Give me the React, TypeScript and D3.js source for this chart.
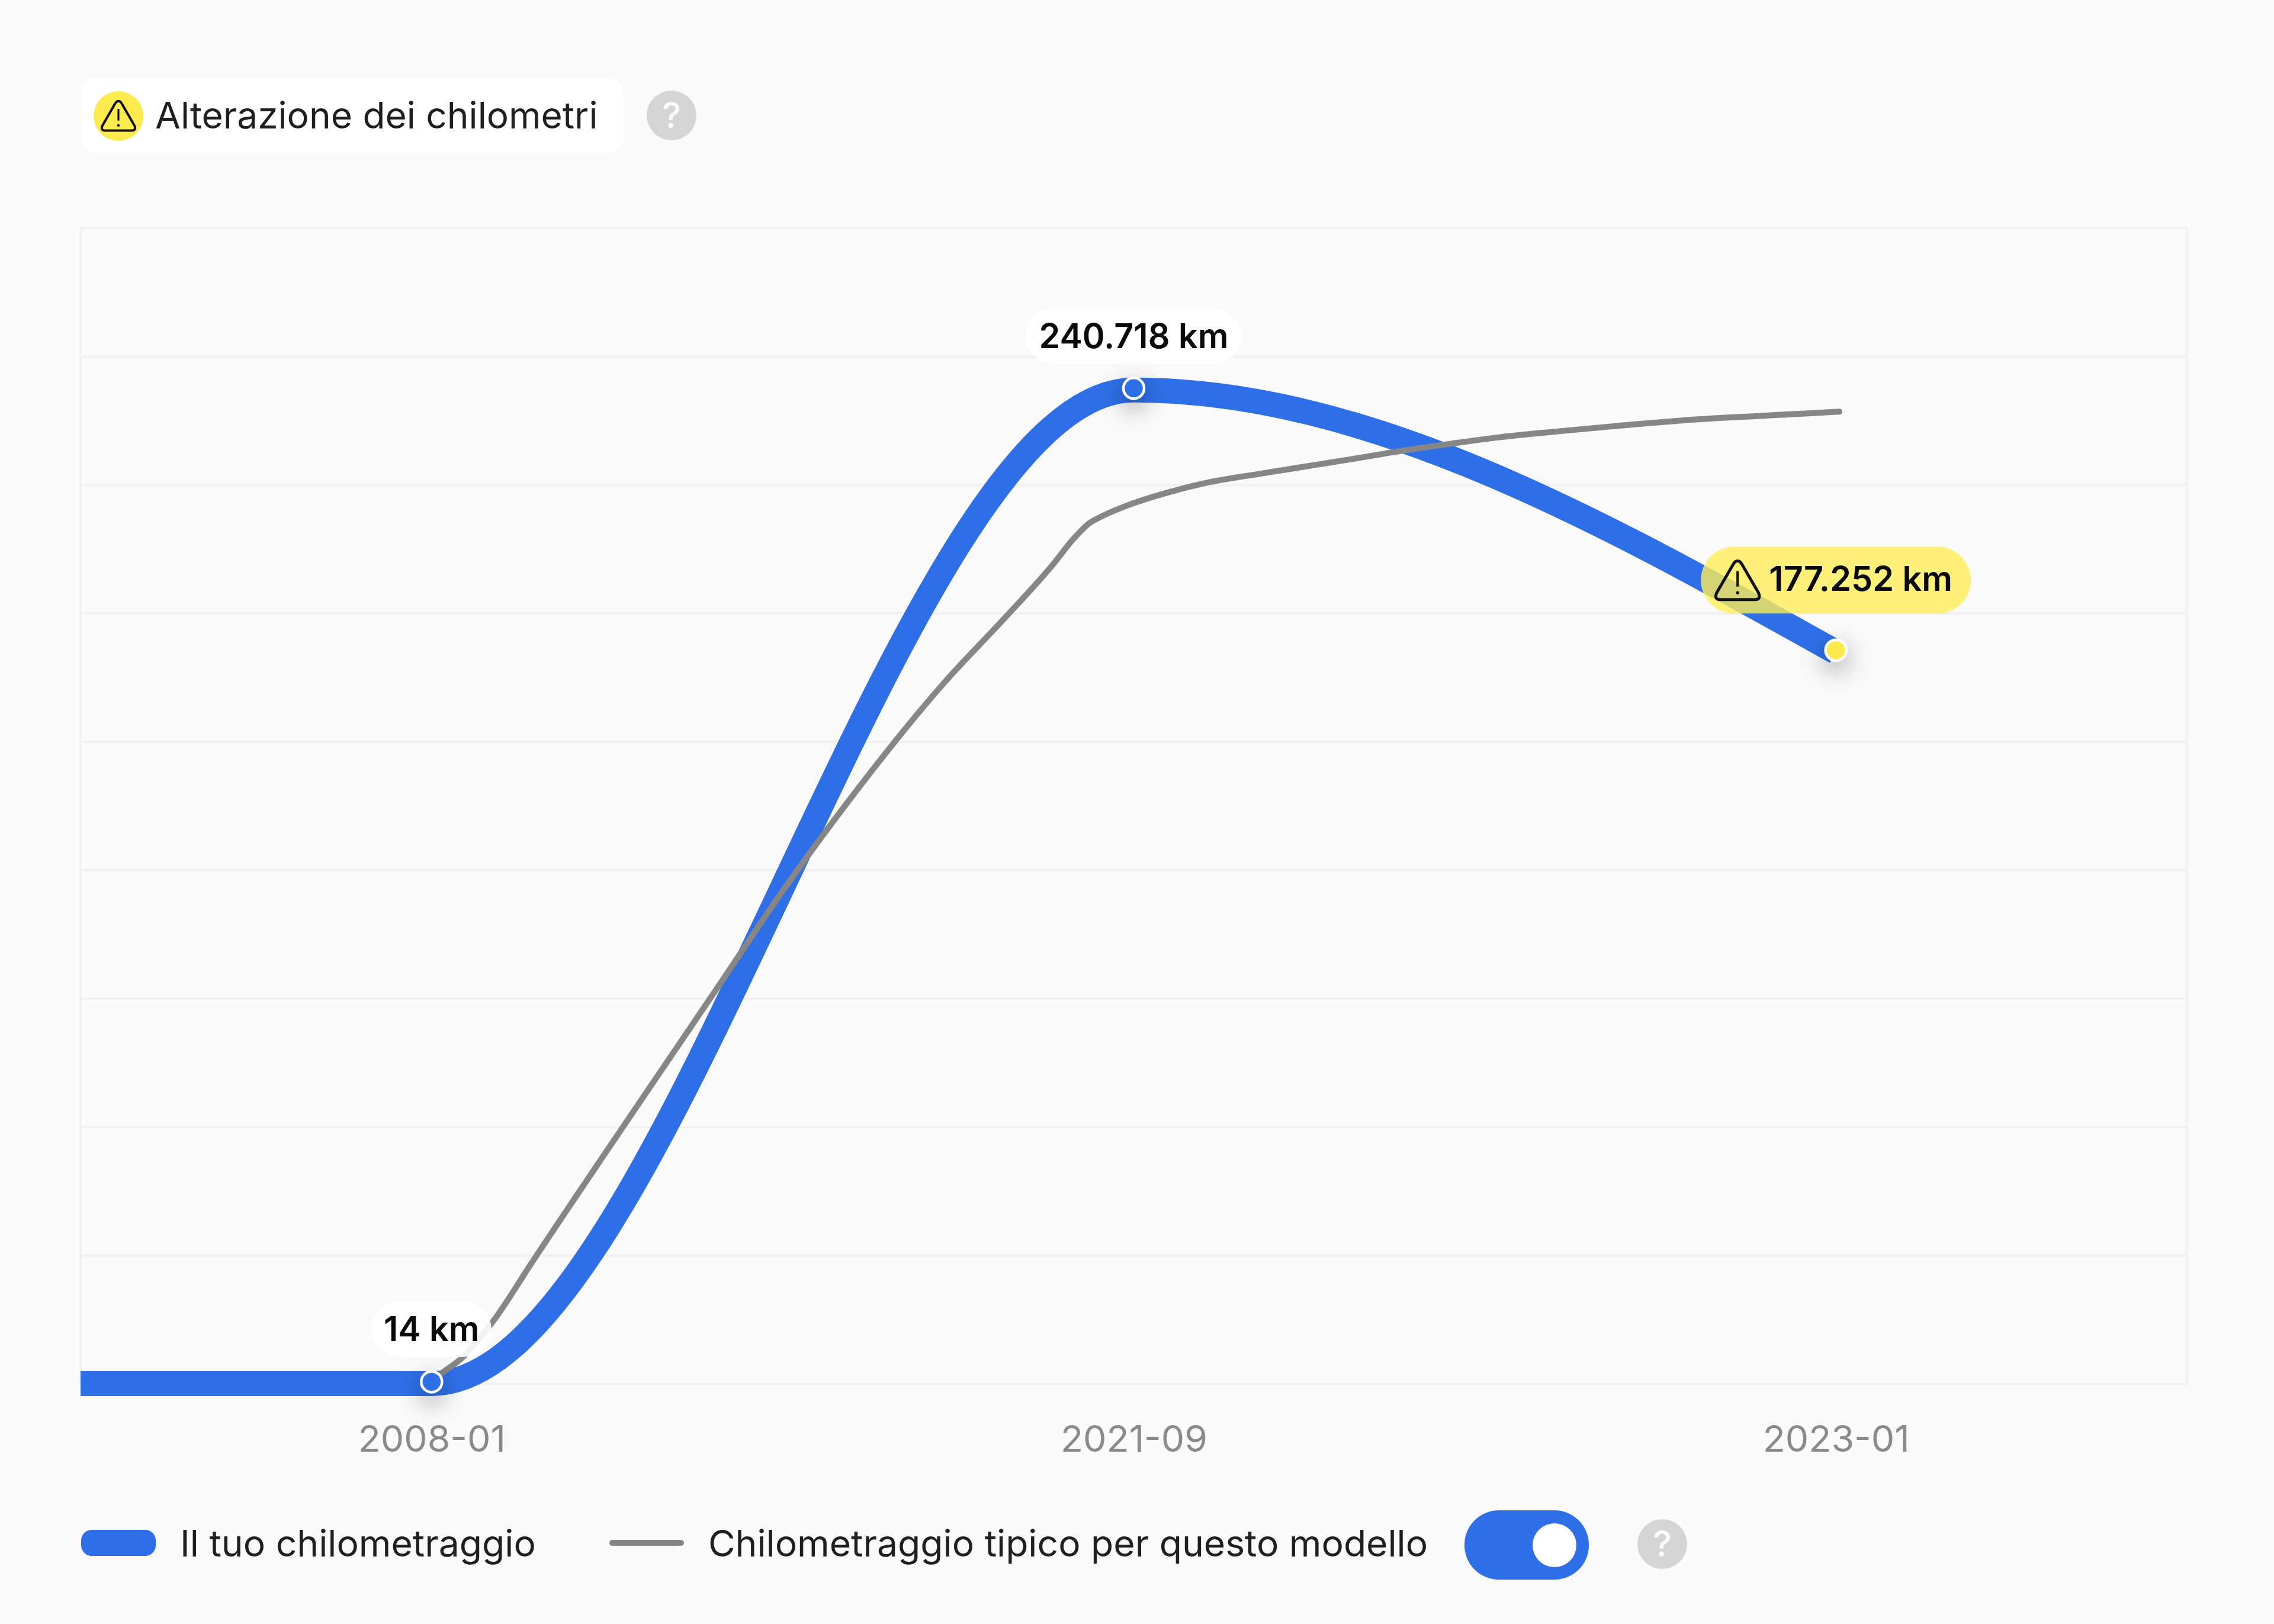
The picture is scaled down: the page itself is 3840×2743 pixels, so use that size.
import { axisBottom, axisLeft, curveMonotoneX, line, scaleLinear, scalePoint, select } from 'd3';
import { useEffect, useRef } from 'react';

const dates = ['2008-01', '2021-09', '2023-01'];
const mileage = [14, 240718, 177252];
const mileageLabels = ['14 km', '240.718 km', '177.252 km'];
const flagged = [false, false, true];

// blue line starts at the left edge of the plot, half a step before the first date
const yourPositions = [-0.5, 0, 1, 2];
const yourKm = [14, 14, 240718, 177252];

const typicalPositions = [
  0, 0.015, 0.043, 0.068, 0.088, 0.142, 0.417, 0.496, 0.594, 0.732, 0.819, 0.885, 0.914, 0.937, 0.954,
  0.994, 1.044, 1.1, 1.184, 1.258, 1.311, 1.382, 1.452, 1.522, 1.606, 1.679, 1.803, 1.943, 2.005,
];
const typicalKm = [
  400, 2583, 6170, 10906, 15211, 29131, 98441, 118388, 141204, 170191, 185976, 198461, 204631,
  208506, 210084, 212954, 215681, 218120, 220560, 222569, 224004, 226012, 227735, 229313, 230748,
  231896, 233618, 234910, 235484,
];

const gridKm = [0, 31111, 62222, 93333, 124444, 155556, 186667, 217778, 248889, 280000];

const titleText = 'Alterazione dei chilometri';
const legendYours = 'Il tuo chilometraggio';
const legendTypical = 'Chilometraggio tipico per questo modello';

const WIDTH = 3840;
const HEIGHT = 2743;
const BLUE = '#2e6fe8';
const GRAY = '#868686';
const FONT = 'Inter, sans-serif';

const plot = { left: 136, right: 3693, top: 385, bottom: 2337 };
const pillWidths = [202, 363, 456];
const pillHeights = [94, 92, 113];
const pillOffsets = [139, 137, 178];
const baselineOffsets = [67, 66, 75];

// warning triangle, centred on cx, cy; size is the full width
const drawWarning = (g, cx, cy, size, strokeWidth) => {
  const s = size / 2;
  const tri = g.append('g').attr('transform', `translate(${cx},${cy}) scale(${s})`);
  tri
    .append('path')
    .attr('d', 'M0,-0.84 Q0.12,-0.84 0.2,-0.68 L0.94,0.6 Q1.04,0.88 0.78,0.88 L-0.78,0.88 Q-1.04,0.88 -0.94,0.6 L-0.2,-0.68 Q-0.12,-0.84 0,-0.84 Z')
    .attr('fill', 'none')
    .attr('stroke', '#111')
    .attr('stroke-width', strokeWidth / s)
    .attr('stroke-linejoin', 'round');
  tri
    .append('line')
    .attr('x1', 0)
    .attr('x2', 0)
    .attr('y1', -0.38)
    .attr('y2', 0.3)
    .attr('stroke', '#111')
    .attr('stroke-width', (strokeWidth * 0.8) / s);
  tri.append('circle').attr('cx', 0).attr('cy', 0.58).attr('r', (strokeWidth * 0.55) / s).attr('fill', '#111');
};

const drawHelp = (g, cx, cy) => {
  g.append('circle').attr('cx', cx).attr('cy', cy).attr('r', 42).attr('fill', '#d5d5d5');
  g.append('text')
    .attr('x', cx)
    .attr('y', cy + 21)
    .attr('text-anchor', 'middle')
    .attr('font-family', FONT)
    .attr('font-size', 60)
    .attr('font-weight', 500)
    .attr('fill', '#fafafa')
    .text('?');
};

const App = () => {
  const svgRef = useRef(null);

  useEffect(() => {
    document.body.style.margin = '0';

    const band = scalePoint().domain(dates).range([plot.left, plot.right]).padding(0.5);
    const x = scaleLinear()
      .domain([-0.5, 2.5])
      .range([plot.left, plot.right]);
    const y = scaleLinear().domain([0, 280000]).range([plot.bottom, plot.top]);

    const svg = select(svgRef.current);
    svg.selectAll('*').remove();

    svg.append('rect').attr('width', WIDTH).attr('height', HEIGHT).attr('fill', '#fafafa');

    const defs = svg.append('defs');
    const shadow = defs
      .append('filter')
      .attr('id', 'marker-shadow')
      .attr('x', '-400%')
      .attr('y', '-400%')
      .attr('width', '900%')
      .attr('height', '900%');
    shadow
      .append('feDropShadow')
      .attr('dx', 0)
      .attr('dy', 14)
      .attr('stdDeviation', 20)
      .attr('flood-color', '#000')
      .attr('flood-opacity', 0.4);

    // title
    const title = svg.append('g');
    title
      .append('rect')
      .attr('x', 138)
      .attr('y', 132)
      .attr('width', 914)
      .attr('height', 126)
      .attr('rx', 24)
      .attr('fill', '#fff');
    title.append('circle').attr('cx', 200).attr('cy', 196).attr('r', 42).attr('fill', '#fdea4f');
    drawWarning(title, 200, 195, 58, 4);
    title
      .append('text')
      .attr('x', 262)
      .attr('y', 217)
      .attr('font-family', FONT)
      .attr('font-size', 62.2)
      .attr('fill', '#1f1f1f')
      .text(titleText);
    drawHelp(svg.append('g'), 1134, 195);

    // grid and frame
    const yAxis = axisLeft(y)
      .tickValues(gridKm)
      .tickSize(-(plot.right - plot.left))
      .tickFormat(() => '');
    const yAxisGroup = svg.append('g').attr('transform', `translate(${plot.left},0)`).call(yAxis);
    yAxisGroup.select('.domain').remove();
    yAxisGroup.selectAll('line').attr('stroke', '#f1f1f1').attr('stroke-width', 4);
    [plot.left, plot.right].forEach((edge) => {
      svg
        .append('line')
        .attr('x1', edge)
        .attr('x2', edge)
        .attr('y1', plot.top)
        .attr('y2', plot.bottom)
        .attr('stroke', '#f1f1f1')
        .attr('stroke-width', 4);
    });

    const xAxis = axisBottom(band).tickSize(0).tickPadding(0);
    const xAxisGroup = svg.append('g').attr('transform', `translate(0,${plot.bottom})`).call(xAxis);
    xAxisGroup.select('.domain').remove();
    xAxisGroup
      .selectAll('text')
      .attr('y', 115)
      .attr('dy', 0)
      .attr('fill', '#8a8a8a')
      .attr('font-family', FONT)
      .attr('font-size', 62.5);

    // lines
    const pathLine = line()
      .x((d) => x(d[0]))
      .y((d) => y(d[1]))
      .curve(curveMonotoneX);

    svg
      .append('path')
      .attr('d', pathLine(yourPositions.map((p, i) => [p, yourKm[i]])))
      .attr('fill', 'none')
      .attr('stroke', BLUE)
      .attr('stroke-width', 42);

    svg
      .append('path')
      .attr('d', pathLine(typicalPositions.map((p, i) => [p, typicalKm[i]])))
      .attr('fill', 'none')
      .attr('stroke', GRAY)
      .attr('stroke-width', 10)
      .attr('stroke-linecap', 'round');

    // markers then pills
    dates.forEach((date, i) => {
      svg
        .append('circle')
        .attr('cx', band(date))
        .attr('cy', y(mileage[i]) - 3)
        .attr('r', 17.5)
        .attr('fill', flagged[i] ? '#fde84e' : BLUE)
        .attr('stroke', '#fff')
        .attr('stroke-width', 4.5)
        .attr('filter', 'url(#marker-shadow)');
    });

    dates.forEach((date, i) => {
      const cx = band(date);
      const top = y(mileage[i]) - pillOffsets[i];
      const pill = svg.append('g');
      pill
        .append('rect')
        .attr('x', cx - pillWidths[i] / 2)
        .attr('y', top)
        .attr('width', pillWidths[i])
        .attr('height', pillHeights[i])
        .attr('rx', pillHeights[i] / 2)
        .attr('fill', flagged[i] ? 'rgba(255,237,87,0.8)' : 'rgba(255,255,255,0.9)');
      if (flagged[i]) drawWarning(pill, cx - 166, top + 56, 76, 5);
      pill
        .append('text')
        .attr('x', flagged[i] ? cx + 42 : cx)
        .attr('y', top + baselineOffsets[i])
        .attr('text-anchor', 'middle')
        .attr('font-family', FONT)
        .attr('font-size', 57.5)
        .attr('font-weight', 600)
        .attr('fill', '#0a0a0a')
        .text(mileageLabels[i]);
    });

    // legend
    const legend = svg.append('g');
    legend
      .append('rect')
      .attr('x', 137)
      .attr('y', 2584)
      .attr('width', 126)
      .attr('height', 44)
      .attr('rx', 18)
      .attr('fill', BLUE);
    legend
      .append('text')
      .attr('x', 304)
      .attr('y', 2629)
      .attr('font-family', FONT)
      .attr('font-size', 62.4)
      .attr('fill', '#1f1f1f')
      .text(legendYours);
    legend
      .append('rect')
      .attr('x', 1029)
      .attr('y', 2601)
      .attr('width', 126)
      .attr('height', 10)
      .attr('rx', 5)
      .attr('fill', GRAY);
    legend
      .append('text')
      .attr('x', 1196)
      .attr('y', 2629)
      .attr('font-family', FONT)
      .attr('font-size', 62.4)
      .attr('fill', '#1f1f1f')
      .text(legendTypical);

    // toggle
    legend
      .append('rect')
      .attr('x', 2473)
      .attr('y', 2551)
      .attr('width', 210)
      .attr('height', 117)
      .attr('rx', 58)
      .attr('fill', BLUE);
    legend.append('circle').attr('cx', 2625).attr('cy', 2610).attr('r', 37).attr('fill', '#fff');
    drawHelp(svg.append('g'), 2807, 2608);
  }, []);

  return <svg ref={svgRef} width={WIDTH} height={HEIGHT} style={{ display: 'block' }} />;
};

export default App;
